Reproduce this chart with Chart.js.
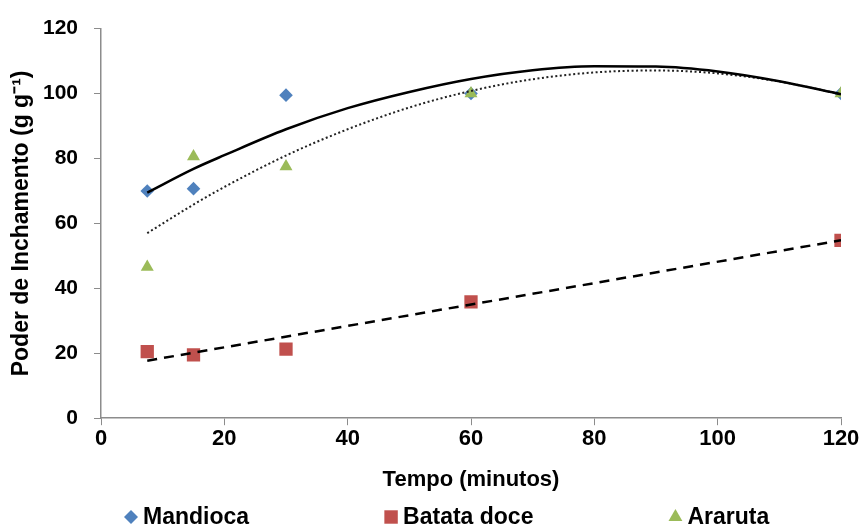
<!DOCTYPE html>
<html>
<head>
<meta charset="utf-8">
<script src="https://cdn.jsdelivr.net/npm/chart.js@4.4.0/dist/chart.umd.min.js"></script>
<style>
  html, body { margin: 0; padding: 0; background: #fff; }
  #wrap { width: 861px; height: 530px; }
</style>
</head>
<body>
<div id="wrap"><canvas id="myChart" width="861" height="530"></canvas></div>
<script>
// measured points (x = minutes)
const tempo = [7.5, 15, 30, 60, 120];
const mandioca = [70, 70.7, 99.5, 100, 100];
const batataDoce = [20.5, 19.5, 21.3, 35.8, 54.8];
const araruta = [46.6, 80.6, 77.5, 100, 100];

// trend lines
const trendX = [7.5, 15, 20, 30, 40, 50, 60, 70, 80, 90, 100, 110, 120];
const trendMandioca = [69.5, 76.8, 81, 89, 95.5, 100.5, 104.5, 107.2, 108.4, 108.3, 106.8, 103.8, 99.8];
const trendAraruta = [57, 65.8, 71.2, 80.9, 89, 95.7, 100.8, 104.4, 106.5, 107.1, 106.2, 103.7, 99.8];
const trendBatataX = [7.5, 120];
const trendBatata = [17.7, 54.8];

const xTicks = [0, 20, 40, 60, 80, 100, 120];

const pts = (xs, ys) => xs.map((x, i) => ({ x: x, y: ys[i] }));

const font = "'Liberation Sans', Arial, sans-serif";

// legend drawn under the x title, with the wide gaps of the original
const bottomLegend = {
  id: "bottomLegend",
  afterDraw(chart) {
    const c = chart.ctx;
    const items = chart.data.datasets.filter((d) => d.legendRadius);
    c.save();
    c.font = "bold 23px " + font;
    c.textBaseline = "middle";
    const gap = 135;
    let x = chart.chartArea.left + 23;
    const y = 517;
    items.forEach((d) => {
      c.fillStyle = d.backgroundColor;
      Chart.helpers.drawPoint(c, { pointStyle: d.pointStyle, radius: d.legendRadius, rotation: 0, borderWidth: 0 }, x + 7, y);
      c.fillStyle = "#000";
      c.fillText(d.label, x + 19, y + 1);
      x += 19 + c.measureText(d.label).width + gap;
    });
    c.restore();
  },
};

const ChartData = {
  type: "scatter",
  data: {
    datasets: [
      {
        label: "Mandioca",
        data: pts(tempo, mandioca),
        pointStyle: "rectRot",
        pointRadius: 6.8,
        legendRadius: 7,
        backgroundColor: "#4F81BD",
        borderColor: "#4F81BD",
        borderWidth: 0,
        order: 5,
      },
      {
        label: "Batata doce",
        data: pts(tempo, batataDoce),
        pointStyle: "rect",
        pointRadius: 9.4,
        legendRadius: 9.5,
        backgroundColor: "#C0504D",
        borderColor: "#C0504D",
        borderWidth: 0,
        order: 4,
      },
      {
        label: "Araruta",
        data: pts(tempo, araruta),
        pointStyle: "triangle",
        pointRadius: 7.5,
        legendRadius: 8,
        backgroundColor: "#9BBB59",
        borderColor: "#9BBB59",
        borderWidth: 0,
        order: 3,
      },
      {
        type: "line",
        label: "trend-m",
        data: pts(trendX, trendMandioca),
        borderColor: "#000",
        borderWidth: 2.5,
        pointRadius: 0,
        cubicInterpolationMode: "monotone",
        fill: false,
        order: 0,
      },
      {
        type: "line",
        label: "trend-a",
        data: pts(trendX, trendAraruta),
        borderColor: "#222",
        borderWidth: 2,
        borderDash: [2, 2.5],
        pointRadius: 0,
        cubicInterpolationMode: "monotone",
        fill: false,
        order: 1,
      },
      {
        type: "line",
        label: "trend-b",
        data: pts(trendBatataX, trendBatata),
        borderColor: "#000",
        borderWidth: 2.5,
        borderDash: [10, 7],
        pointRadius: 0,
        fill: false,
        order: 0,
      },
    ],
  },
  options: {
    responsive: false,
    animation: false,
    layout: { padding: { left: 8, right: 20, top: 26, bottom: 37 } },
    plugins: {
      tooltip: { enabled: false },
      legend: { display: false },
    },
    scales: {
      x: {
        type: "linear",
        min: 0,
        max: 120,
        afterBuildTicks: (axis) => {
          axis.ticks = xTicks.map((v) => ({ value: v }));
        },
        border: { color: "#8c8c8c", width: 1.5 },
        grid: { drawOnChartArea: false, drawTicks: true, tickLength: 7, color: "#8c8c8c" },
        ticks: { color: "#000", font: { family: font, size: 22, weight: "bold" }, padding: 1, maxRotation: 0 },
        title: {
          display: true,
          text: "Tempo (minutos)",
          color: "#000",
          font: { family: font, size: 22, weight: "bold" },
          padding: { top: 13, bottom: 0 },
        },
      },
      y: {
        min: 0,
        max: 120,
        afterFit: (axis) => {
          axis.width = 93;
        },
        border: { color: "#8c8c8c", width: 1.5 },
        grid: { drawOnChartArea: false, drawTicks: true, tickLength: 7, color: "#8c8c8c" },
        ticks: { stepSize: 20, color: "#000", font: { family: font, size: 21, weight: "bold" }, padding: 16 },
        title: {
          display: true,
          text: "Poder de Inchamento (g g\u207B\u00B9)",
          color: "#000",
          font: { family: font, size: 23, weight: "bold" },
          padding: { top: 0, bottom: 0 },
        },
      },
    },
  },
  plugins: [bottomLegend],
};

const ctx = document.getElementById("myChart").getContext("2d");
const myCharter = new Chart(ctx, ChartData);
</script>
</body>
</html>
